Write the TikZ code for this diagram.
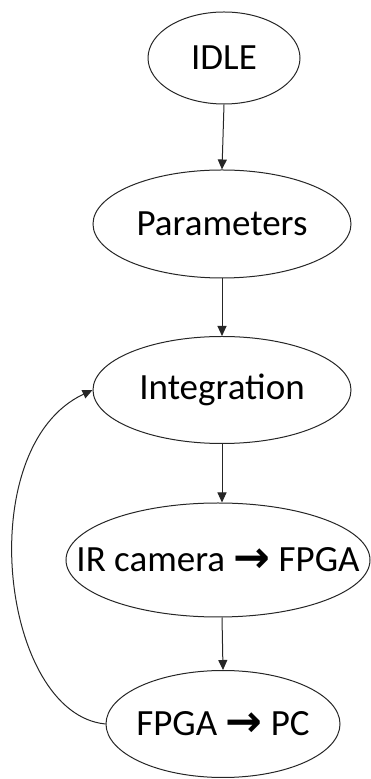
\documentclass[tikz,border=0pt]{standalone}
\usepackage{fontspec}
\setmainfont{Carlito}
\newfontfamily\arrowfont{DejaVu Sans}
\usetikzlibrary{arrows.meta,shapes.geometric}
\newcommand{\rarr}{\raisebox{-1pt}{\arrowfont\bfseries\fontsize{44}{44}\selectfont\symbol{"2192}}}
% zero-width label so the ellipse size is set only by its minimum dimensions
\newcommand{\lbl}[1]{\makebox[0pt]{#1}}
\begin{document}
\begin{tikzpicture}[x=1pt,y=1pt,
  state/.style={draw=black!85, line width=1pt, ellipse, inner sep=0pt,
    font=\fontsize{37}{42}\selectfont},
  arr/.style={draw=black!85, line width=1pt,
    -{Triangle[length=10pt,width=9pt]}}]
  \useasboundingbox (0,0) rectangle (371,779);
  % states of the acquisition loop
  \node[state, minimum width=152pt, minimum height=92pt]  (idle)   at (224,721) {\lbl{IDLE}};
  \node[state, minimum width=258pt, minimum height=108pt] (params) at (222,555) {\lbl{Parameters}};
  \node[state, minimum width=258pt, minimum height=107pt] (integ)  at (222,389) {\lbl{Integration}};
  \node[state, minimum width=304pt, minimum height=114pt] (ir)     at (218,219) {\lbl{IR camera \rarr\ FPGA}};
  \node[state, minimum width=234pt, minimum height=107pt] (pc)     at (223,55)  {\lbl{FPGA \rarr\ PC}};
  % transitions
  \draw[arr] (idle.south) -- (params.north);
  \draw[arr] (params.south) -- (integ.north);
  \draw[arr] (integ.south) -- (integ.south |- ir.north);
  \draw[arr] (integ.south |- ir.south) -- (pc.north);
  \draw[arr] (pc.west) .. controls +(-105,10) and +(-122,-57) .. (integ.west);
\end{tikzpicture}
\end{document}
